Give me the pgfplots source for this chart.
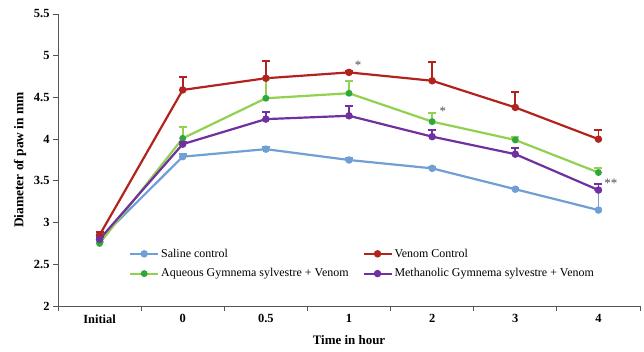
\documentclass[border=0pt]{standalone}
\usepackage{pgfplots}
\pgfplotsset{compat=1.18}
\usepackage{fontspec}
\setmainfont{Liberation Serif}
\definecolor{cSal}{HTML}{6F9FD4}
\definecolor{cVen}{HTML}{B3231E}
\definecolor{cAqL}{HTML}{92D050}
\definecolor{cAqM}{HTML}{2EA83C}
\definecolor{cMet}{HTML}{7030A0}
\definecolor{axc}{HTML}{555555}
\begin{document}
\begin{tikzpicture}
\begin{axis}[name=ax,
  scale only axis, width=582bp, height=292bp,
  xmin=-0.5, xmax=6.5, ymin=2, ymax=5.5,
  axis x line*=bottom, axis y line*=left,
  axis line style={axc, line width=1pt},
  xtick={-0.5,0.5,...,6.5},
  x tick label as interval,
  xticklabels={Initial,0,0.5,1,2,3,4},
  ytick={2,2.5,...,5.5},
  yticklabels={2,2.5,3,3.5,4,4.5,5,5.5},
  tick style={axc, line width=0.8pt},
  tick align=outside, major tick length=5bp,
  tick label style={font=\fontsize{12.5}{14}\selectfont\bfseries},
  /pgf/number format/assume math mode=true,
  xlabel={Time in hour}, ylabel={Diameter of paw in mm},
  xlabel style={font=\fontsize{13}{14}\selectfont\bfseries, at={(axis description cs:0.5,-0.1164)}, anchor=center},
  ylabel style={font=\fontsize{13.5}{14}\selectfont\bfseries, at={(axis description cs:-0.0653,0.5)}, anchor=center},
  every axis plot/.append style={line width=2.2pt},
  error bars/y dir=plus, error bars/y explicit,
  error bars/error mark=-,
  legend columns=2,
  legend style={draw=none, fill=none, at={(axis description cs:0.122,0.203)}, anchor=north west,
    font=\fontsize{12}{14}\selectfont, row sep=6bp, inner sep=0pt,
    /tikz/every even column/.append style={column sep=12bp}},
  legend cell align=left,
  legend image code/.code={\draw[#1, line width=2pt] (0bp,0bp) -- (28bp,0bp); \draw[#1, mark repeat=1] plot coordinates {(14bp,0bp)};},
]
\addplot[color=cSal, mark=*, mark size=2.6pt, error bars/error bar style={cSal, line width=1.8pt}, error bars/error mark options={cSal, rotate=90, line width=2pt, mark size=4bp}] coordinates {
 (0,2.80) +- (0,0.03) (1,3.79) +- (0,0.03) (2,3.88) +- (0,0.03) (3,3.75) +- (0,0.02) (4,3.65) +- (0,0.02) (5,3.40) +- (0,0.02) (6,3.15) +- (0,0.24)};
\addlegendentry{Saline control}
\addplot[color=cVen, mark=*, mark size=2.6pt, error bars/error bar style={cVen, line width=1.8pt}, error bars/error mark options={cVen, rotate=90, line width=2pt, mark size=4bp}] coordinates {
 (0,2.85) +- (0,0.04) (1,4.59) +- (0,0.16) (2,4.73) +- (0,0.21) (3,4.80) +- (0,0.02) (4,4.70) +- (0,0.22) (5,4.38) +- (0,0.18) (6,4.00) +- (0,0.11)};
\addlegendentry{Venom Control}
\addplot[color=cAqL, mark=*, mark size=2.3pt, mark options={fill=cAqM, draw=cAqM}, error bars/error bar style={cAqL, line width=1.8pt}, error bars/error mark options={cAqL, rotate=90, line width=2pt, mark size=4bp}] coordinates {
 (0,2.75) +- (0,0.02) (1,4.01) +- (0,0.14) (2,4.49) +- (0,0.23) (3,4.55) +- (0,0.15) (4,4.21) +- (0,0.10) (5,3.99) +- (0,0.03) (6,3.60) +- (0,0.06)};
\addlegendentry{Aqueous Gymnema sylvestre + Venom}
\addplot[color=cMet, mark=*, mark size=2.6pt, error bars/error bar style={cMet, line width=1.8pt}, error bars/error mark options={cMet, rotate=90, line width=2pt, mark size=4bp}] coordinates {
 (0,2.80) +- (0,0.03) (1,3.94) +- (0,0.03) (2,4.24) +- (0,0.08) (3,4.28) +- (0,0.12) (4,4.03) +- (0,0.08) (5,3.82) +- (0,0.07) (6,3.39) +- (0,0.07)};
\addlegendentry{Methanolic Gymnema sylvestre + Venom}
\node[font=\fontsize{13}{14}\selectfont, text=black!70] at (axis cs:3.11,4.89) {*};
\node[font=\fontsize{13}{14}\selectfont, text=black!70] at (axis cs:4.13,4.33) {*};
\node[font=\fontsize{13}{14}\selectfont, text=black!70] at (axis cs:6.15,3.47) {**};
\end{axis}
\pgfresetboundingbox
\path ([shift={(-58bp,-45bp)}]ax.south west) rectangle ([shift={(4bp,14bp)}]ax.north east);
\end{tikzpicture}
\end{document}
